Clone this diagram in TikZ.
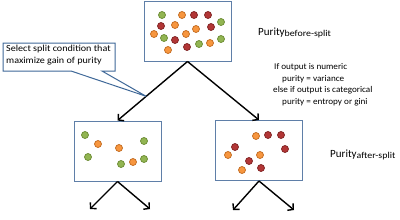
\documentclass[tikz,border=0pt]{standalone}
\usepackage{fontspec}
\setmainfont{Carlito}
\newfontfamily\callfont[FakeStretch=1.1]{Carlito}
\newfontfamily\notefont[FakeStretch=1.04]{Carlito}
\newfontfamily\subfont[FakeStretch=1.1]{Carlito}
\usetikzlibrary{arrows.meta,calc}
\definecolor{gfill}{HTML}{92B552}
\definecolor{gline}{HTML}{6A8A32}
\definecolor{ofill}{HTML}{F7963F}
\definecolor{oline}{HTML}{C0691F}
\definecolor{rfill}{HTML}{B23636}
\definecolor{rline}{HTML}{7E2222}
\definecolor{boxline}{HTML}{5F7FA8}
\definecolor{callline}{HTML}{3F6898}
\newcommand{\subtxt}[1]{\raisebox{-1.6pt}{\subfont\fontsize{9}{10}\selectfont #1}}
\tikzset{
  databox/.style={draw=boxline, line width=1pt, fill=white, minimum width=87pt, minimum height=60pt, inner sep=0pt},
  gd/.style={circle, draw=gline, fill=gfill, line width=0.7pt, minimum size=7pt, inner sep=0pt},
  od/.style={circle, draw=oline, fill=ofill, line width=0.7pt, minimum size=7pt, inner sep=0pt},
  rd/.style={circle, draw=rline, fill=rfill, line width=0.7pt, minimum size=7pt, inner sep=0pt},
  splitarrow/.style={draw=black, line width=1.4pt, -{Straight Barb[length=4pt,width=9pt,line width=1.4pt]}},
  calltxt/.style={anchor=base west, inner sep=0pt, font=\callfont\fontsize{9.2}{11}\selectfont},
  txt/.style={anchor=base west, inner sep=0pt, font=\notefont\fontsize{8.8}{10}\selectfont},
  lbl/.style={anchor=base west, inner sep=0pt, font=\fontsize{11}{13}\selectfont}
}
\begin{document}
\begin{tikzpicture}[x=1pt,y=-1pt]
\useasboundingbox (0,0) rectangle (400,220);
% boxes
\node[databox] (top) at (187.5,31) {};
\node[databox] (left) at (117.5,151) {};
\node[databox] (right) at (259,150.5) {};
% dots top
\node[gd] (t1) at (162,15) {};
\node[od] (t2) at (182,15) {};
\node[rd] (t3) at (194,15) {};
\node[rd] (t4) at (208,15) {};
\node[gd] (t5) at (221,22) {};
\node[rd] (t6) at (161,26) {};
\node[od] (t7) at (175,25) {};
\node[od] (t8) at (196,29) {};
\node[rd] (t9) at (211,27) {};
\node[od] (t10) at (154,34) {};
\node[gd] (t11) at (164,38) {};
\node[od] (t12) at (186,34) {};
\node[rd] (t13) at (175,40) {};
\node[gd] (t14) at (221,39) {};
\node[od] (t15) at (210,43) {};
\node[gd] (t16) at (199,44) {};
\node[rd] (t17) at (187,47) {};
\node[od] (t18) at (168,50) {};
% dots left
\node[gd] (l1) at (85,135) {};
\node[od] (l2) at (98,144) {};
\node[od] (l3) at (119,148) {};
\node[gd] (l4) at (144,141) {};
\node[gd] (l5) at (88,157) {};
\node[gd] (l6) at (121,164) {};
\node[od] (l7) at (133,162) {};
\node[gd] (l8) at (144,159) {};
% dots right
\node[od] (r1) at (256,136) {};
\node[rd] (r2) at (268,135) {};
\node[rd] (r3) at (281,135) {};
\node[rd] (r4) at (235,147) {};
\node[rd] (r5) at (285,149) {};
\node[od] (r6) at (228,155) {};
\node[od] (r7) at (260,155) {};
\node[rd] (r8) at (249,161) {};
\node[rd] (r9) at (261,168) {};
\node[od] (r10) at (242,170) {};
% arrows
\draw[splitarrow] (top.south) -- (left.north);
\draw[splitarrow] (top.south) -- (right.north);
\coordinate (ll) at (90,209);
\coordinate (lr) at (150,209);
\coordinate (rl) at (233,210);
\coordinate (rr) at (294,210);
\draw[splitarrow] (left.south) -- (ll);
\draw[splitarrow] (left.south) -- (lr);
\draw[splitarrow] (right.south) -- (rl);
\draw[splitarrow] (right.south) -- (rr);
% callout
\coordinate (tip) at ($(top.south)!0.59!(left.north)$);
\draw[draw=callline, line width=1pt, fill=white, line join=miter] (3,43) -- (115,43) -- (115,71) -- (102,71) -- (tip) -- (71,71) -- (3,71) -- cycle;
\node[calltxt] (c1) at (6,51) {Select split condition that};
\node[calltxt] (c2) at (6,63) {maximize gain of purity};
% labels
\node[lbl] (pb) at (258,35) {Purity\subtxt{before-split}};
\node[lbl] (pa) at (330,157) {Purity\subtxt{after-split}};
\node[txt] (i1) at (274,69) {If output is numeric};
\node[txt] (i2) at (282,81) {purity = variance};
\node[txt] (i3) at (273,92) {else if output is categorical};
\node[txt] (i4) at (282,104) {purity = entropy or gini};
\end{tikzpicture}
\end{document}
